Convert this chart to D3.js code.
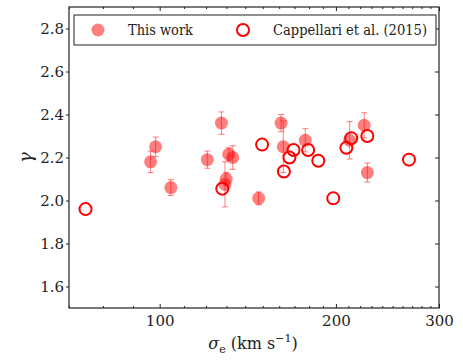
<!DOCTYPE html>
<html>
<head>
<meta charset="utf-8">
<script src="https://cdn.jsdelivr.net/npm/d3@7"></script>
<style>
  body { margin: 0; background: #fff; }
</style>
</head>
<body>
<svg id="chart" width="463" height="364"></svg>
<script>
// This work: sigma_e, gamma, error
const thisSigma = [96.5, 98.4, 104.5, 127.5, 120.6, 131.2, 133.3, 129.9, 129.3, 147.6, 161.2, 162.6, 177.3, 211.1, 223.5, 226.3];
const thisGamma = [2.18, 2.25, 2.06, 2.36, 2.19, 2.215, 2.20, 2.10, 2.075, 2.01, 2.36, 2.25, 2.28, 2.28, 2.35, 2.13];
const thisErr   = [0.05, 0.045, 0.037, 0.052, 0.04, 0.03, 0.055, 0.03, 0.105, 0.03, 0.04, 0.12, 0.054, 0.087, 0.058, 0.044];

// Cappellari et al. (2015)
const capSigma = [74.7, 127.9, 149.6, 163.0, 166.6, 169.3, 179.3, 186.6, 197.9, 208.4, 212.4, 226.3, 266.6];
const capGamma = [1.96, 2.055, 2.26, 2.135, 2.20, 2.235, 2.235, 2.185, 2.01, 2.245, 2.29, 2.30, 2.19];

const xMajor = [100, 200, 300];
const xMinor = [70, 80, 90, 110, 120, 130, 140, 150, 160, 170, 180, 190, 210, 220, 230, 240, 250, 260, 270, 280, 290];
const yTicks = [1.6, 1.8, 2.0, 2.2, 2.4, 2.6, 2.8];

const FONT = "'DejaVu Serif', serif";

const margin = { top: 7, right: 24, bottom: 56, left: 69 };
const W = 463, H = 364;
const w = W - margin.left - margin.right;
const h = H - margin.top - margin.bottom;

const svg = d3.select("#chart");
const g = svg.append("g").attr("transform", `translate(${margin.left},${margin.top})`);

const x = d3.scaleLog().domain([70, 300]).range([0, w]);
const y = d3.scaleLinear().domain([1.5, 2.9]).range([h, 0]);

const thisData = thisSigma.map((s, i) => ({ s, g: thisGamma[i], e: thisErr[i] }));
const capData = capSigma.map((s, i) => ({ s, g: capGamma[i] }));

// error bars
const eb = g.append("g").attr("stroke", "red").attr("stroke-opacity", 0.5).attr("stroke-width", 1);
thisData.forEach(d => {
    const cx = x(d.s);
    eb.append("line").attr("x1", cx).attr("x2", cx).attr("y1", y(d.g - d.e)).attr("y2", y(d.g + d.e));
    eb.append("line").attr("x1", cx - 3).attr("x2", cx + 3).attr("y1", y(d.g - d.e)).attr("y2", y(d.g - d.e));
    eb.append("line").attr("x1", cx - 3).attr("x2", cx + 3).attr("y1", y(d.g + d.e)).attr("y2", y(d.g + d.e));
});

g.selectAll(".pt")
    .data(thisData)
    .enter()
    .append("circle")
    .attr("class", "pt")
    .attr("cx", d => x(d.s))
    .attr("cy", d => y(d.g))
    .attr("r", 6.5)
    .attr("fill", "red")
    .attr("fill-opacity", 0.5);

g.selectAll(".cap")
    .data(capData)
    .enter()
    .append("circle")
    .attr("class", "cap")
    .attr("cx", d => x(d.s))
    .attr("cy", d => y(d.g))
    .attr("r", 6)
    .attr("fill", "none")
    .attr("stroke", "red")
    .attr("stroke-width", 2);

// axes
function styleAxis(sel) {
    sel.attr("font-family", null);
    sel.select(".domain").remove();
    sel.selectAll("line").attr("stroke", "#222");
    sel.selectAll("text")
        .style("font-family", FONT)
        .style("font-size", "15px")
        .attr("fill", "#222");
}

g.append("g").attr("transform", `translate(0,${h})`)
    .call(d3.axisBottom(x).tickValues(xMajor).tickFormat(d3.format("d")).tickSize(-4).tickPadding(7))
    .call(styleAxis);
g.append("g").attr("transform", `translate(0,${h})`)
    .call(d3.axisBottom(x).tickValues(xMinor).tickFormat("").tickSize(-2))
    .call(styleAxis);
g.append("g")
    .call(d3.axisTop(x).tickValues(xMajor).tickFormat("").tickSize(-4))
    .call(styleAxis);
g.append("g")
    .call(d3.axisTop(x).tickValues(xMinor).tickFormat("").tickSize(-2))
    .call(styleAxis);
g.append("g")
    .call(d3.axisLeft(y).tickValues(yTicks).tickFormat(d3.format(".1f")).tickSize(3).tickPadding(2))
    .call(styleAxis);
g.append("g").attr("transform", `translate(${w},0)`)
    .call(d3.axisRight(y).tickValues(yTicks).tickFormat("").tickSize(-4))
    .call(styleAxis);

g.append("rect")
    .attr("width", w).attr("height", h)
    .attr("fill", "none").attr("stroke", "#222").attr("stroke-width", 1.2);

// legend
const lg = g.append("g").attr("transform", "translate(5,8)");
lg.append("rect").attr("width", 362).attr("height", 30)
    .attr("fill", "#fff").attr("stroke", "#222").attr("stroke-width", 1);
lg.append("circle").attr("cx", 24).attr("cy", 15).attr("r", 6.5)
    .attr("fill", "red").attr("fill-opacity", 0.5);
lg.append("text").attr("x", 54).attr("y", 20)
    .style("font-family", FONT).style("font-size", "14px").attr("fill", "#222")
    .attr("textLength", 65).attr("lengthAdjust", "spacingAndGlyphs")
    .text("This work");
lg.append("circle").attr("cx", 169).attr("cy", 15).attr("r", 6)
    .attr("fill", "none").attr("stroke", "red").attr("stroke-width", 2);
lg.append("text").attr("x", 199).attr("y", 20)
    .style("font-family", FONT).style("font-size", "14px").attr("fill", "#222")
    .attr("textLength", 154).attr("lengthAdjust", "spacingAndGlyphs")
    .text("Cappellari et al. (2015)");

// axis labels
const xl = svg.append("text").attr("x", 253).attr("y", 349)
    .attr("text-anchor", "middle")
    .style("font-family", FONT).style("font-size", "16px").attr("fill", "#222");
xl.append("tspan").style("font-style", "italic").text("σ");
xl.append("tspan").attr("dy", 4).style("font-size", "11px").text("e");
xl.append("tspan").attr("dy", -4).text(" (km s");
xl.append("tspan").attr("dy", -7).style("font-size", "11px").text("−1");
xl.append("tspan").attr("dy", 7).text(")");

svg.append("text")
    .attr("transform", `translate(32,${margin.top + h / 2}) rotate(-90)`)
    .attr("text-anchor", "middle")
    .style("font-family", FONT).style("font-size", "18px").style("font-style", "italic")
    .attr("fill", "#222")
    .text("γ");
</script>
</body>
</html>
